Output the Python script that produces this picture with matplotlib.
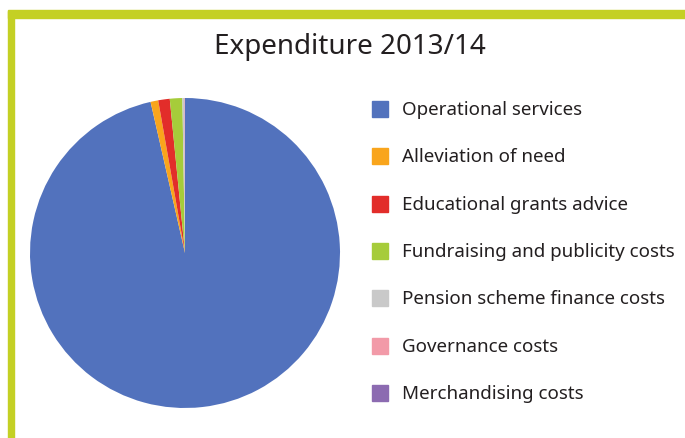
import matplotlib.pyplot as plt
from matplotlib.patches import Rectangle

plt.rcParams['font.family'] = ['Noto Sans', 'DejaVu Sans']

# Expenditure categories and shares (%)
labels = ['Operational services', 'Alleviation of need', 'Educational grants advice',
          'Fundraising and publicity costs', 'Pension scheme finance costs',
          'Governance costs', 'Merchandising costs']
values = [96.5, 0.8, 1.2, 1.3, 0.2, 0.05, 0.02]
colors = ['#5272bd', '#f9a51c', '#e22d2a', '#a6cc3a', '#c9c9c9', '#f29aa8', '#8c6bb1']

W, H = 685, 439
fig = plt.figure(figsize=(W / 100, H / 100), dpi=100)

# lime frame (top and left edges)
lime = '#c4d024'
fig.patches.append(Rectangle((8 / W, 0), 6 / W, (H - 12) / H, transform=fig.transFigure,
                             color=lime, zorder=0))
fig.patches.append(Rectangle((8 / W, (H - 19) / H), (W - 8) / W, 8 / H,
                             transform=fig.transFigure, color=lime, zorder=0))

fig.text(350 / W, 1 - 47 / H, 'Expenditure 2013/14', ha='center', va='center',
         fontsize=20, color='#231f20')

# pie: centre (185, 254), radius 155 px
cx, cy, r = 185, 254, 155
ax = fig.add_axes([(cx - r) / W, 1 - (cy + r) / H, 2 * r / W, 2 * r / H])
ax.pie(values, colors=colors, startangle=90, counterclock=False,
       wedgeprops=dict(linewidth=0))
ax.set_xlim(-1, 1)
ax.set_ylim(-1, 1)
ax.set_aspect('equal')

# legend
for i, (lab, col) in enumerate(zip(labels, colors)):
    y = 110 + i * 47.3
    fig.patches.append(Rectangle((372 / W, 1 - (y + 8) / H), 16 / W, 16 / H,
                                 transform=fig.transFigure, color=col))
    fig.text(402 / W, 1 - y / H, lab, ha='left', va='center', fontsize=13.5,
             color='#231f20')

fig.savefig('out.png', dpi=100)
